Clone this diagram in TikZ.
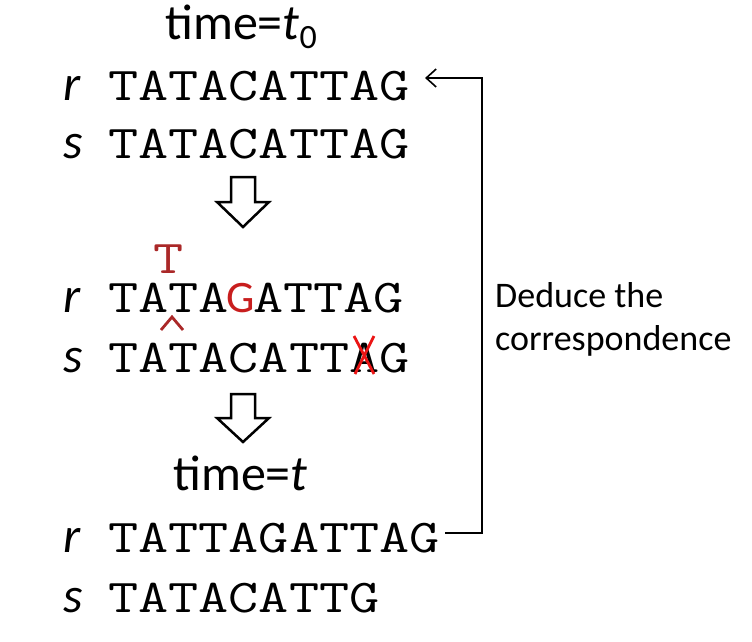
\documentclass[tikz,border=0pt]{standalone}
\usepackage{fontspec}
\setmainfont{Carlito}
\newfontfamily\seqfont{Latin Modern Mono}[FakeStretch=1.245]
\usetikzlibrary{arrows.meta}
\definecolor{tred}{RGB}{170,40,40}
\definecolor{gred}{RGB}{200,30,30}
\definecolor{xred}{RGB}{235,20,20}
\tikzset{
  seq/.style={anchor=base west, inner sep=0pt, font=\seqfont\fontsize{47}{56}\selectfont},
  lbl/.style={anchor=base west, inner sep=0pt, font=\itshape\fontsize{50}{60}\selectfont},
  ttl/.style={anchor=base west, inner sep=0pt, font=\fontsize{50}{60}\selectfont},
  note/.style={anchor=base west, inner sep=0pt, font=\fontsize{36}{43}\selectfont},
  blockarrow/.style={draw=black, fill=white, line width=2.5pt, line join=miter},
  redmark/.style={line width=2.8pt},
  link/.style={draw=black, line width=1.6pt, -{Straight Barb[length=10pt,width=18pt,line width=1.6pt]}}
}
\begin{document}
\begin{tikzpicture}[x=1pt,y=-1pt]
\useasboundingbox (0,0) rectangle (752,642);
% time t0
\node[ttl] (t0) at (165,40) {time={\itshape t}\raisebox{-9pt}{\fontsize{34}{40}\selectfont 0}};
\node[lbl] (l1) at (63,100) {r};
\node[seq] (s1) at (108,100) {TATACATTAG};
\node[lbl] (l2) at (63,158) {s};
\node[seq] (s2) at (108,158) {TATACATTAG};
% block arrow 1
\draw[blockarrow] (231,177) -- (255,177) -- (255,202) -- (269,202) -- (243,227) -- (217,202) -- (231,202) -- cycle;
% mutated rows
\node[seq, anchor=base, text=tred] (ins) at (169,273) {T};
\node[lbl] (l3) at (63,312) {r};
\node[seq] (s3) at (108,312) {TATA\makebox[0.525em]{\color{gred}\rmfamily\fontsize{45}{50}\selectfont G}ATTAG};
\draw[redmark, tred] (161,330) -- (172,317) -- (183,330);
\node[lbl] (l4) at (63,372) {s};
\node[seq] (s4) at (108,372) {TATACATTAG};
\draw[redmark, xred] (354,336) -- (374,374);
\draw[redmark, xred] (374,336) -- (355,374);
% block arrow 2
\draw[blockarrow] (231,394) -- (255,394) -- (255,418) -- (269,418) -- (243,442) -- (217,418) -- (231,418) -- cycle;
% time t
\node[ttl] (tt) at (173,490) {time={\itshape t}};
\node[lbl] (l5) at (63,552) {r};
\node[seq] (s5) at (108,552) {TATTAGATTAG};
\node[lbl] (l6) at (63,612) {s};
\node[seq] (s6) at (108,612) {TATACATTG};
% correspondence link
\coordinate (c5) at (445,533);
\coordinate (c1) at (425,78);
\draw[link] (c5) -- (482,533) -- (482,78) -- (c1);
\node[note] (d1) at (495,307) {Deduce the};
\node[note] (d2) at (495,350) {correspondence};
\end{tikzpicture}
\end{document}
